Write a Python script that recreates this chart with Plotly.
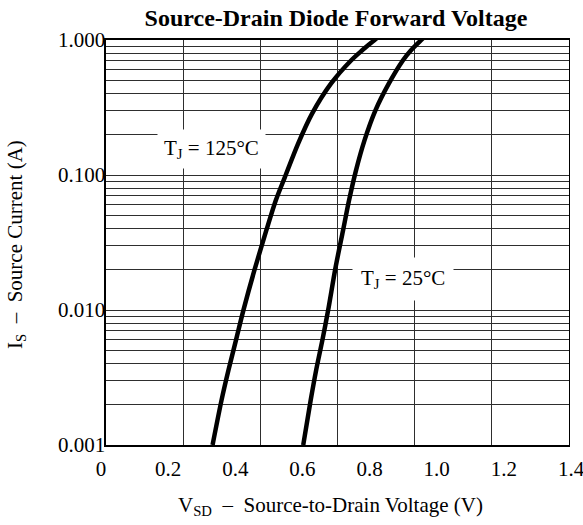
import plotly.graph_objects as go

# ---- data ----
v_25 = [0.6024, 0.6246, 0.6409, 0.6602, 0.6766, 0.6988, 0.7211, 0.7389, 0.7596,
        0.7849, 0.8175, 0.8576, 0.8991, 0.9228, 0.9525, 0.9674]
i_25 = [0.001, 0.00215, 0.00359, 0.00611, 0.00997, 0.02074, 0.0390, 0.0650, 0.1083,
        0.1805, 0.301, 0.4766, 0.7052, 0.836, 0.9915, 1.08]

v_125 = [0.3323, 0.3591, 0.3798, 0.4021, 0.4243, 0.4570, 0.4926, 0.5208, 0.5475,
         0.5875, 0.6291, 0.6855, 0.7448, 0.7774, 0.8131, 0.8309]
i_125 = [0.001, 0.00215, 0.00359, 0.00598, 0.00997, 0.01971, 0.0390, 0.0650, 0.0961,
         0.1715, 0.2859, 0.4766, 0.7052, 0.836, 0.9915, 1.08]

x_tick_vals = [0, 0.2, 0.4, 0.6, 0.8, 1.0, 1.2, 1.4]
x_tick_text = ["0", "0.2", "0.4", "0.6", "0.8", "1.0", "1.2", "1.4"]
y_decades = [0.001, 0.01, 0.1, 1.0]
y_decade_text = ["0.001", "0.010", "0.100", "1.000"]

title_text = "Source-Drain Diode Forward Voltage"
x_title = "V<sub>SD</sub>  –  Source-to-Drain Voltage (V)"
y_title = "I<sub>S</sub>  –  Source Current (A)"
label_125 = "T<sub>J</sub> = 125°C"
label_25 = "T<sub>J</sub> = 25°C"

# ---- grid tick positions (1..9 per decade) ----
grid_vals = []
grid_text = []
for k, d in enumerate(y_decades[:-1]):
    for m in range(1, 10):
        grid_vals.append(d * m)
        grid_text.append(y_decade_text[k] if m == 1 else " ")
grid_vals.append(1.0)
grid_text.append("1.000")

FONT = "Liberation Serif"
OFF = 0  # page body margin removed by post_script below
W, H = 583 - OFF, 525 - OFF
ML = 101 - OFF
MT = 40 - OFF
PLOT_BOTTOM = 445 - OFF
PLOT_RIGHT = 571 - OFF
MR = W - PLOT_RIGHT
MB = H - PLOT_BOTTOM
PW = PLOT_RIGHT - ML
PH = PLOT_BOTTOM - MT
frame_l = (106 - OFF - ML) / PW
frame_r = min((568.5 - OFF - ML) / PW, 1.0)


def px(xr):
    return (xr - OFF - ML) / PW


def py(yr):
    return (PLOT_BOTTOM - (yr - OFF)) / PH


fig = go.Figure()

# invisible trace so the grid subplot exists
fig.add_trace(go.Scatter(x=[0], y=[0.01], xaxis="x", yaxis="y", mode="markers",
                         marker=dict(opacity=0), hoverinfo="skip", showlegend=False))

for vv, ii in ((v_125, i_125), (v_25, i_25)):
    fig.add_trace(go.Scatter(x=vv, y=ii, xaxis="x2", yaxis="y2", mode="lines",
                             line=dict(color="black", width=4.5, shape="spline", smoothing=0.8),
                             hoverinfo="skip", showlegend=False))

fig.update_layout(
    width=W, height=H,
    margin=dict(l=ML, r=MR, t=MT, b=MB, pad=0, autoexpand=False),
    paper_bgcolor="white",
    plot_bgcolor="rgba(0,0,0,0)",
    font=dict(family=FONT, color="black", size=21),
    showlegend=False,
    title=dict(text="<b>" + title_text + "</b>", x=px(336), xref="paper",
               xanchor="center", y=1 - (18 - OFF) / H, yref="container", yanchor="middle",
               font=dict(family=FONT, size=24, color="black")),
    xaxis=dict(domain=[frame_l, frame_r], range=[0, 6], dtick=1, tick0=0,
               showgrid=True, gridcolor="#2e2e2e", gridwidth=1,
               showline=True, mirror=True, linecolor="black", linewidth=1.6,
               showticklabels=False, ticks="", zeroline=False, anchor="y",
               automargin=False),
    yaxis=dict(domain=[0, 1], type="log", range=[-3, 0],
               tickmode="array", tickvals=grid_vals, ticktext=grid_text,
               showgrid=True, gridcolor="#2e2e2e", gridwidth=1,
               showline=True, mirror=True, linecolor="black", linewidth=1.6,
               ticks="", zeroline=False, anchor="x", ticklabelstandoff=-5,
               automargin=False,
               tickfont=dict(family=FONT, size=21, color="black")),
    xaxis2=dict(domain=[0, 1], range=[0, 1.40001], tickmode="array",
                tickvals=x_tick_vals, ticktext=x_tick_text,
                showgrid=False, showline=False, zeroline=False, anchor="y2",
                ticks="outside", ticklen=5, tickcolor="rgba(0,0,0,0)",
                automargin=False, ticklabeloverflow="allow",
                tickfont=dict(family=FONT, size=21, color="black")),
    yaxis2=dict(domain=[0, 1], type="log", range=[-3, 0],
                showgrid=False, showline=False, zeroline=False, showticklabels=False,
                ticks="", anchor="x2", automargin=False),
)

fig.add_annotation(text=x_title, xref="paper", yref="paper", x=px(330), y=py(506),
                   showarrow=False, xanchor="center", yanchor="middle",
                   font=dict(family=FONT, size=21, color="black"))
fig.add_annotation(text=y_title, xref="paper", yref="paper", x=px(16), y=py(245),
                   textangle=-90, showarrow=False, xanchor="center", yanchor="middle",
                   font=dict(family=FONT, size=21, color="black"))

# temperature labels with white boxes
fig.add_annotation(text=label_125, xref="paper", yref="paper", x=px(211), y=py(149),
                   showarrow=False, xanchor="center", yanchor="middle",
                   bgcolor="white", borderpad=6,
                   font=dict(family=FONT, size=21, color="black"))
fig.add_annotation(text=label_25, xref="paper", yref="paper", x=px(403), y=py(279),
                   showarrow=False, xanchor="center", yanchor="middle",
                   bgcolor="white", borderpad=8,
                   font=dict(family=FONT, size=21, color="black"))

fig.write_html(
    "out.html",
    config={"displayModeBar": False, "staticPlot": True},
    post_script=("document.body.style.margin='0px';"
                 "document.body.style.overflow='hidden';"
                 "document.documentElement.style.overflow='hidden';"),
)
